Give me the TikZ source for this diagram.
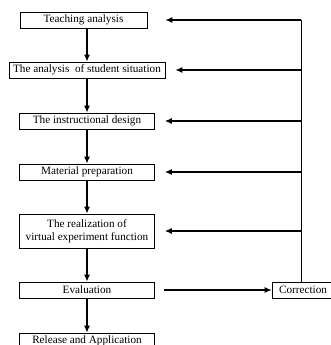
\documentclass[tikz,border=0pt]{standalone}
\usepackage{fontspec}
\setmainfont{Liberation Serif}
\usetikzlibrary{arrows.meta}

\tikzset{
  stage/.style={draw=black, line width=0.7pt, minimum width=135pt, minimum height=16pt,
    inner sep=1pt, align=center, font=\fontsize{11.2}{12.5}\selectfont},
  flow/.style={line width=1.5pt, -{Latex[length=7pt,width=6pt]}},
  back/.style={line width=1.2pt, -{Latex[length=7pt,width=6pt]}}
}

\def\xm{87}
\def\xf{301}

\begin{document}
\begin{tikzpicture}[x=1pt,y=-1pt]
        \useasboundingbox (0,0) rectangle (331,345);
        % main chain
        \node[stage, minimum width=127pt] (teach) at (83.5,20) {Teaching analysis};
        \node[stage, minimum width=156pt] (student) at (87,70) {The analysis \ of student situation};
        \node[stage] (design) at (\xm,121) {The instructional design};
        \node[stage] (material) at (\xm,172) {Material preparation};
        \node[stage, minimum height=34pt] (realize) at (\xm,231) {The realization of\\virtual experiment function};
        \node[stage] (eval) at (\xm,290) {Evaluation};
        \node[stage] (release) at (\xm,341) {Release and Application};
        \node[stage, minimum width=62pt] (correct) at (303,290) {Correction};
        \coordinate (fb) at (\xf,20);

        \draw[flow] (teach.south -| student.south) -- (student.north);
        \draw[flow] (student) -- (design);
        \draw[flow] (design) -- (material);
        \draw[flow] (material) -- (realize);
        \draw[flow] (realize) -- (eval);
        \draw[flow] (eval) -- (release);
        \draw[back, shorten <=9pt] (eval.east) -- (correct.west);

        % feedback
        \draw[line width=0.8pt] (correct.north -| fb) -- (fb);
        \draw[back, shorten >=18pt] (fb) -- (teach.east);
        \draw[back, shorten >=10pt] (fb |- student) -- (student.east);
        \draw[back, shorten >=10pt] (fb |- design) -- (design.east);
        \draw[back, shorten >=10pt] (fb |- material) -- (material.east);
        \draw[back, shorten >=10pt] (fb |- realize) -- (realize.east);
    \end{tikzpicture}
\end{document}
